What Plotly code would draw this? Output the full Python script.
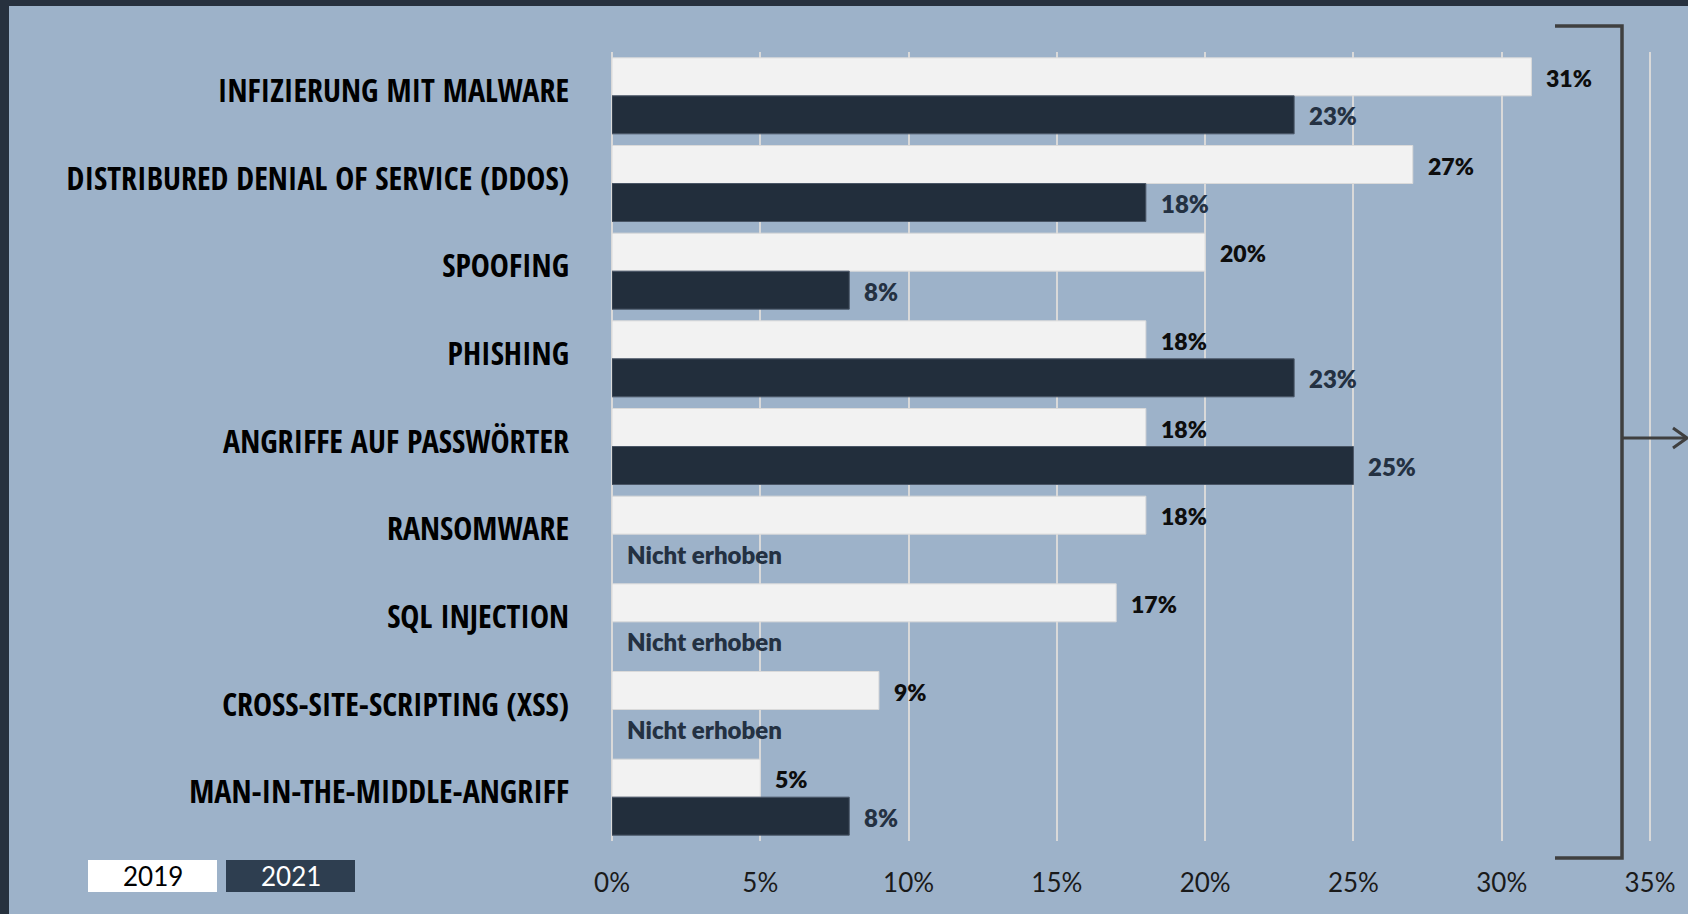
import plotly.graph_objects as go

# ---------------- data ----------------
categories = [
    "INFIZIERUNG MIT MALWARE",
    "DISTRIBURED DENIAL OF SERVICE (DDOS)",
    "SPOOFING",
    "PHISHING",
    "ANGRIFFE AUF PASSWÖRTER",
    "RANSOMWARE",
    "SQL INJECTION",
    "CROSS-SITE-SCRIPTING (XSS)",
    "MAN-IN-THE-MIDDLE-ANGRIFF",
]
series_names = ["2019", "2021"]
values_2019 = [31, 27, 20, 18, 18, 18, 17, 9, 5]
values_2021 = [23, 18, 8, 23, 25, None, None, None, 8]
missing_label = "Nicht erhoben"
x_tick_values = [0, 5, 10, 15, 20, 25, 30, 35]
x_tick_labels = ["0%", "5%", "10%", "15%", "20%", "25%", "30%", "35%"]

# ---------------- styling ----------------
W, H = 1688, 914
ML, MR, MT, MB = 612, 35, 52, 73
PW, PH = W - ML - MR, H - MT - MB

BG = "#9db2c9"
FRAME = "#27313e"
C2019 = "#f2f2f2"
C2021 = "#222e3c"
LEG2021 = "#2e3e50"
GRID = "#d9d9d9"
BRACKET = "#3f3f3f"
NUM_FONT = "Lato, Carlito, 'Open Sans', sans-serif"
CAT_FONT = "'Open Sans Condensed', 'Roboto Condensed', 'Noto Sans Condensed', sans-serif"


def px(x):
    return (x - ML) / PW


def py(y):
    return 1 - (y - MT) / PH


fig = go.Figure()
fig.add_trace(go.Bar(
    name=series_names[0], y=categories, x=values_2019, orientation="h",
    marker=dict(color=C2019, line=dict(color="#dadada", width=1)),
    hoverinfo="skip",
))
fig.add_trace(go.Bar(
    name=series_names[1], y=categories, x=values_2021, orientation="h",
    marker=dict(color=C2021, line=dict(color="#4a5666", width=1)),
    hoverinfo="skip",
))

annotations = []
for cat, v in zip(categories, values_2019):
    annotations.append(dict(
        x=v, y=cat, xref="x", yref="y", text=f"{v}%", showarrow=False,
        xanchor="left", yanchor="middle", xshift=13, yshift=18,
        font=dict(family=NUM_FONT, size=23, color="#0d0d0d", weight=800),
    ))
for cat, v in zip(categories, values_2021):
    annotations.append(dict(
        x=(v if v is not None else 0), y=cat, xref="x", yref="y",
        text=(f"{v}%" if v is not None else missing_label),
        showarrow=False, xanchor="left", yanchor="middle", xshift=13, yshift=-20,
        font=dict(family=NUM_FONT, size=24, color="#243142", weight=800),
    ))

# legend boxes text
annotations.append(dict(
    x=px(152.5), y=py(876), xref="paper", yref="paper", text=series_names[0],
    showarrow=False, xanchor="center", yanchor="middle",
    font=dict(family=NUM_FONT, size=26, color="#000000"),
))
annotations.append(dict(
    x=px(290.5), y=py(876), xref="paper", yref="paper", text=series_names[1],
    showarrow=False, xanchor="center", yanchor="middle",
    font=dict(family=NUM_FONT, size=26, color="#ffffff"),
))

shapes = [
    dict(type="rect", xref="paper", yref="paper", x0=px(0), x1=px(W), y0=py(0), y1=py(6),
         fillcolor=FRAME, line=dict(width=0), layer="above"),
    dict(type="rect", xref="paper", yref="paper", x0=px(0), x1=px(9), y0=py(0), y1=py(H),
         fillcolor=FRAME, line=dict(width=0), layer="above"),
    dict(type="rect", xref="paper", yref="paper", x0=px(88), x1=px(217), y0=py(860), y1=py(892),
         fillcolor="#ffffff", line=dict(width=0)),
    dict(type="rect", xref="paper", yref="paper", x0=px(226), x1=px(355), y0=py(860), y1=py(892),
         fillcolor=LEG2021, line=dict(width=0)),
    dict(type="path", xref="paper", yref="paper",
         path=f"M {px(1555)} {py(26)} L {px(1622)} {py(26)} L {px(1622)} {py(858)} L {px(1555)} {py(858)}",
         line=dict(color=BRACKET, width=3.5), layer="above"),
    dict(type="line", xref="paper", yref="paper", x0=px(1622), x1=px(1686), y0=py(438), y1=py(438),
         line=dict(color=BRACKET, width=3), layer="above"),
    dict(type="path", xref="paper", yref="paper",
         path=f"M {px(1673)} {py(428)} L {px(1687)} {py(438)} L {px(1673)} {py(448)}",
         line=dict(color=BRACKET, width=3), layer="above"),
]

fig.update_layout(
    width=W, height=H,
    margin=dict(l=ML, r=MR, t=MT, b=MB, autoexpand=False),
    paper_bgcolor=BG, plot_bgcolor=BG,
    barmode="group", bargap=0.133, bargroupgap=0,
    showlegend=False,
    annotations=annotations, shapes=shapes,
    xaxis=dict(
        range=[0, 35.1], tickvals=x_tick_values, ticktext=x_tick_labels,
        showgrid=True, gridcolor=GRID, gridwidth=1.5,
        zeroline=True, zerolinecolor=GRID, zerolinewidth=1.5,
        showline=False, ticks="", ticklabelstandoff=24,
        tickfont=dict(family=NUM_FONT, size=26, color="#1a1a1a"),
        fixedrange=True,
    ),
    yaxis=dict(
        type="category", autorange="reversed", showgrid=False, zeroline=False,
        showline=False, ticks="", ticklabelstandoff=42, ticklabelshift=5,
        tickfont=dict(family=CAT_FONT, size=32, color="#000000", weight="bold"),
        fixedrange=True,
    ),
)

fig.write_html("out.html")
